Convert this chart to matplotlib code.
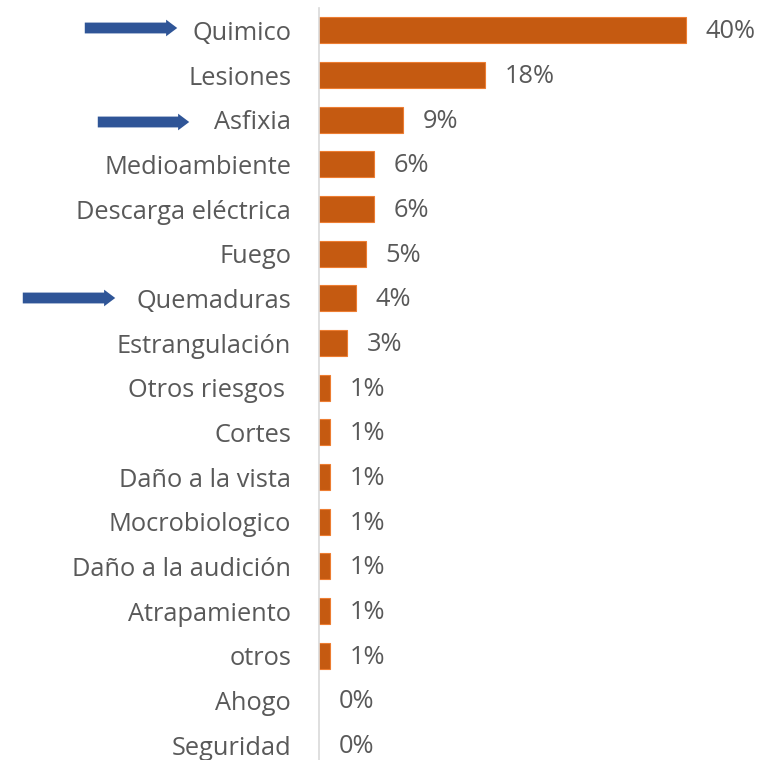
import matplotlib
matplotlib.use("Agg")
import matplotlib.pyplot as plt
from matplotlib.patches import FancyArrowPatch

categories = ["Quimico", "Lesiones", "Asfixia", "Medioambiente", "Descarga eléctrica",
              "Fuego", "Quemaduras", "Estrangulación", "Otros riesgos ", "Cortes",
              "Daño a la vista", "Mocrobiologico", "Daño a la audición", "Atrapamiento",
              "otros", "Ahogo", "Seguridad"]
values = [40.0, 18.1, 9.2, 6.0, 6.0, 5.1, 4.0, 3.05, 1.2, 1.2, 1.2, 1.2, 1.2, 1.2, 1.2, 0.0, 0.0]
value_labels = ["40%", "18%", "9%", "6%", "6%", "5%", "4%", "3%", "1%", "1%", "1%",
                "1%", "1%", "1%", "1%", "0%", "0%"]
arrow_rows = ["Quimico", "Asfixia", "Quemaduras"]

plt.rcParams['font.family'] = ['Open Sans', 'DejaVu Sans']
W, H = 761, 760
fig = plt.figure(figsize=(W / 100, H / 100), dpi=100)

ax_left = 319 / W
ax_w = (W - 319) / W
ax = fig.add_axes([ax_left, 0.0, ax_w, (H - 8) / H])

ypos = list(range(len(categories)))
ax.barh(ypos, values, height=0.58, color="#C55A11", edgecolor="#ED7D31",
        linewidth=[0.8 if v > 0 else 0 for v in values])
ax.set_ylim((H - 30) / 44.69, -0.5)
ax.set_xlim(0, (W - 319) / 9.175)

ax.set_yticks(ypos)
ax.set_yticklabels(categories, fontsize=18.3, color="#595959")
ax.tick_params(axis='y', length=0, pad=20)
ax.set_xticks([])
for s in ["top", "right", "bottom"]:
    ax.spines[s].set_visible(False)
ax.spines["left"].set_color("#D9D9D9")
ax.spines["left"].set_linewidth(1.2)

for y, v, lab in zip(ypos, values, value_labels):
    ax.annotate(lab, xy=(v, y), xytext=(14, -1), textcoords="offset points",
                va="center", ha="left", fontsize=18.3, color="#595959")

# arrows (figure pixel coordinates)
arrow_px = {"Quimico": (82, 180, 28), "Asfixia": (95, 192, 122), "Quemaduras": (20, 118, 298)}
for name in arrow_rows:
    x0, x1, yy = arrow_px[name]
    arr = FancyArrowPatch((x0, H - yy), (x1, H - yy), transform=None,
                          arrowstyle="simple,head_length=8,head_width=12,tail_width=7.8",
                          mutation_scale=1, color="#2F5597", lw=0)
    fig.patches.append(arr)

fig.savefig("out.png", dpi=100)
